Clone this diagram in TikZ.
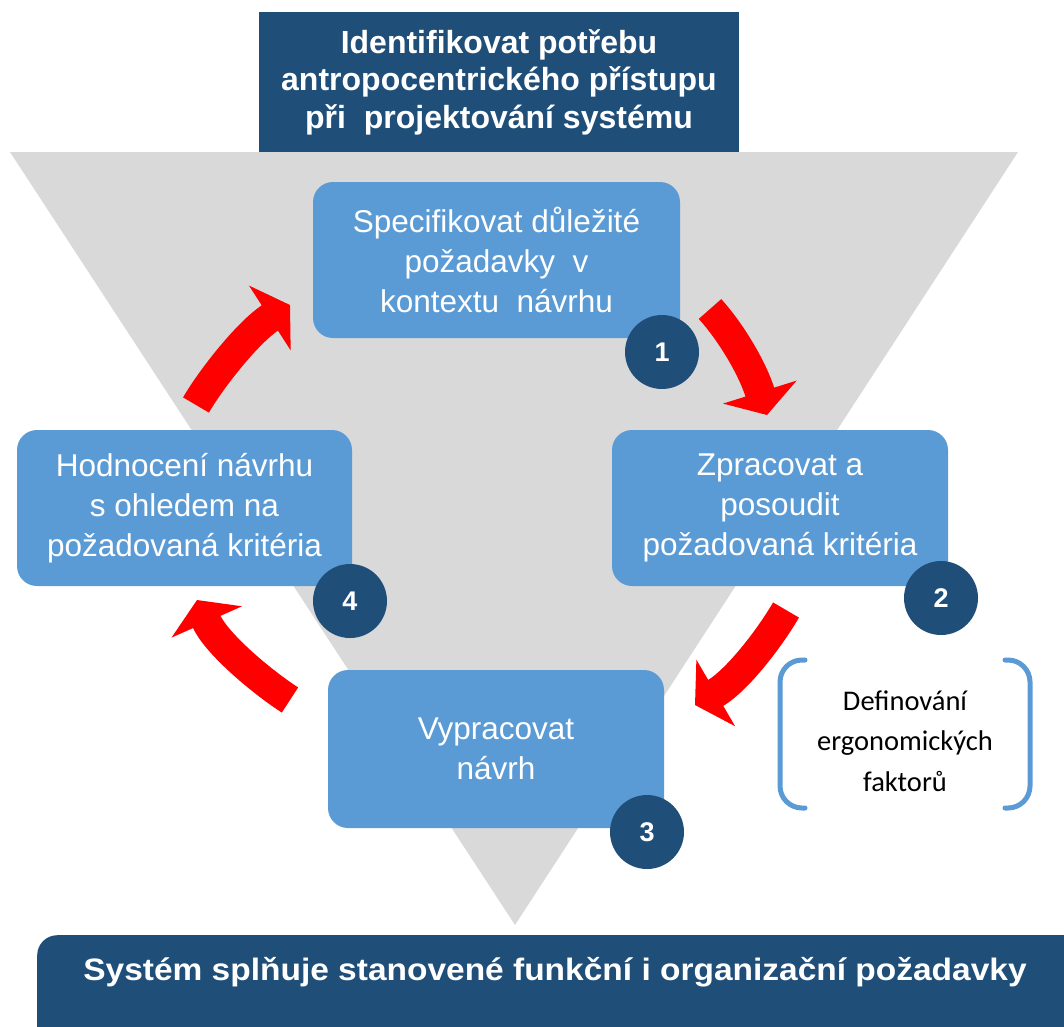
\documentclass[tikz,border=0pt]{standalone}
\usepackage{fontspec}
\setmainfont{Liberation Sans}
\newfontfamily\calib{Carlito}
\usetikzlibrary{arrows.meta}
\definecolor{dkblue}{HTML}{1F4E79}
\definecolor{ltblue}{HTML}{5B9BD5}
\definecolor{tgrey}{HTML}{D9D9D9}
\definecolor{arrred}{HTML}{FF0000}
\begin{document}
\begin{tikzpicture}[x=1pt,y=-1pt,
  stepbox/.style={fill=ltblue, rounded corners=20pt, text=white, align=center,
    font=\fontsize{31.5}{40}\selectfont, inner sep=0pt},
  numdot/.style={circle, fill=dkblue, text=white, minimum size=74pt, inner sep=0pt,
    font=\fontsize{27}{27}\selectfont\bfseries},
  redarrow/.style={draw=arrred, line width=30pt,
    -{Triangle[length=24pt,width=76pt]}},
  brack/.style={draw=ltblue, line width=5pt, line cap=round, rounded corners=22pt},
]
\useasboundingbox (0,0) rectangle (1064,1026);
% grey triangle
\fill[tgrey] (10,152) -- (1018,152) -- (515,925) -- cycle;
% top box
\node[fill=dkblue, minimum width=480pt, minimum height=140pt, inner sep=0pt,
  text=white, align=center, font=\fontsize{32}{37.5}\selectfont\bfseries]
  (top) at (499,82) {Identifikovat potřebu\\antropocentrického přístupu\\při\ \ projektování systému};
% step boxes
\node[stepbox, minimum width=367pt, minimum height=156pt] (b1) at (496.5,260)
  {Specifikovat důležité\\požadavky\ \ v\\kontextu\ \ návrhu};
\node[stepbox, minimum width=336pt, minimum height=156pt] (b2) at (780,508)
  {Zpracovat a\\posoudit\\požadovaná kritéria};
\node[stepbox, minimum width=336pt, minimum height=158pt] (b3) at (496,749)
  {Vypracovat\\návrh};
\node[stepbox, minimum width=335pt, minimum height=156pt] (b4) at (184.5,508)
  {Hodnocení návrhu\\s ohledem na\\požadovaná kritéria};
% arrows
\coordinate (a1s) at (710,309); \coordinate (a1e) at (767,415);
\coordinate (a2s) at (786,610); \coordinate (a2e) at (695,705);
\coordinate (a3s) at (290,700); \coordinate (a3e) at (197,600);
\coordinate (a4s) at (196,405); \coordinate (a4e) at (290,305);
\draw[redarrow] (a1s) .. controls (730,331) and (752,367) .. (a1e);
\draw[redarrow] (a2s) .. controls (771,636) and (738,680) .. (a2e);
\draw[redarrow] (a3s) .. controls (265,684) and (217,645) .. (a3e);
\draw[redarrow] (a4s) .. controls (211,379) and (248,332) .. (a4e);
% number circles
\node[numdot] (n1) at (662,352) {1};
\node[numdot] (n2) at (941,598) {2};
\node[numdot] (n3) at (647,832) {3};
\node[numdot] (n4) at (350,601) {4};
% bracket note
\node[align=center, text=black, font=\calib\fontsize{28.5}{40.5}\selectfont] (note) at (905,741)
  {Definování\\ergonomických\\faktorů};
\draw[brack] (805,660) -- (780,660) -- (780,808) -- (805,808);
\draw[brack] (1005,660) -- (1030,660) -- (1030,808) -- (1005,808);
% bottom bar
\node[fill=dkblue, rounded corners=20pt, minimum width=1070pt, minimum height=130pt,
  inner sep=0pt, anchor=north west] (bar) at (37,935) {};
\node[text=white, font=\fontsize{31}{31}\selectfont\bfseries] (bartext) at (555,972)
  {\scalebox{1.08}[1]{Systém splňuje stanovené funkční i organizační požadavky}};
\end{tikzpicture}
\end{document}
